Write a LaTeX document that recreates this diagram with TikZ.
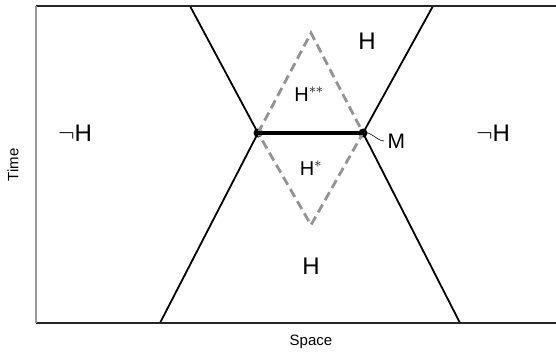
\documentclass[tikz,border=0pt]{standalone}
\usepackage{fontspec}
\setmainfont{Liberation Sans}
\usepackage{tikz}
\usetikzlibrary{positioning}

\begin{document}
\begin{tikzpicture}[
    x=1pt, y=-1pt,
    frame/.style={line width=1.3pt, black!85},
    axis/.style={line width=1.5pt, gray!80},
    bound/.style={line width=1.8pt, black},
    cone/.style={line width=2.8pt, gray!85, dash pattern=on 9pt off 5pt},
    event/.style={circle, fill=black, inner sep=0pt, minimum size=9pt},
    region/.style={font=\fontsize{24}{26}\selectfont},
    inner/.style={font=\fontsize{20}{22}\selectfont},
    axlabel/.style={font=\fontsize{15}{17}\selectfont}
]
    \useasboundingbox (0,0) rectangle (556,353);

    % frame corners
    \coordinate (ftl) at (36,6);
    \coordinate (fbl) at (36,323);
    \coordinate (ftr) at (556,6);
    \coordinate (fbr) at (556,323);

    % boundary ends
    \coordinate (ltop) at (190,6);
    \coordinate (rtop) at (433,6);
    \coordinate (lbot) at (160,323);
    \coordinate (rbot) at (460,323);

    % diamond vertices
    \coordinate (dtop) at (311,33);
    \coordinate (dbot) at (311,225);
    \node[event] (left) at (258,133) {};
    \node[event] (right) at (363,133) {};

    \draw[cone] (left.center) -- (dtop) -- (right.center) -- (dbot) -- cycle;

    \draw[bound] (ltop) -- (left.center) -- (lbot);
    \draw[bound] (rtop) -- (right.center) -- (rbot);
    \draw[line width=4.5pt] (left.center) -- (right.center);

    \draw[frame] (ftr) -- (ftl);
    \draw[frame] (fbl) -- (fbr);
    \draw[axis] (ftl) -- (fbl);

    \node[region] (notl) at (75,133) {$\neg$H};
    \node[region] (notr) at (493,133) {$\neg$H};
    \node[region] (hup) at (367,41) {H};
    \node[region] (hdown) at (311,266) {H};
    \node[inner] (hss) at (309,94) {H$^{**}$};
    \node[inner] (hs) at (311,168) {H$^{*}$};
    \node[region, font=\fontsize{21}{23}\selectfont, anchor=west] (mlabel) at (384,141) {M};
    \draw[line width=0.6pt] (right.center) .. controls (372,131) and (375,140) .. (mlabel.west);

    \node[axlabel] (space) at (311,342) {Space};
    \node[axlabel, rotate=90] (time) at (13,165) {Time};
\end{tikzpicture}
\end{document}
